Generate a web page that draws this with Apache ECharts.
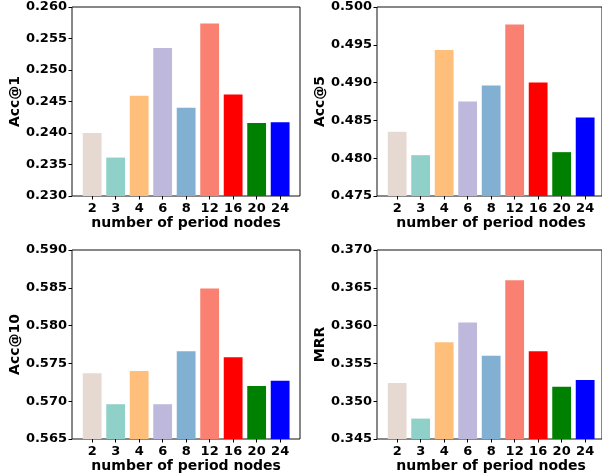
<!DOCTYPE html>
<html>
<head>
<meta charset="utf-8">
<script src="https://cdn.jsdelivr.net/npm/echarts@6/dist/echarts.min.js"></script>
<style>html,body{margin:0;padding:0;background:#fff;}#c{width:602px;height:476px;}</style>
</head>
<body>
<div id="c"></div>
<script>
const categories = ['2','3','4','6','8','12','16','20','24'];
const acc1  = [0.2400, 0.2361, 0.2459, 0.2535, 0.2440, 0.2574, 0.2461, 0.2416, 0.2417];
const acc5  = [0.4835, 0.4804, 0.4943, 0.4875, 0.4896, 0.4977, 0.4900, 0.4808, 0.4854];
const acc10 = [0.5737, 0.5696, 0.5740, 0.5696, 0.5766, 0.5849, 0.5758, 0.5720, 0.5727];
const mrr   = [0.3524, 0.3477, 0.3578, 0.3604, 0.3560, 0.3660, 0.3566, 0.3519, 0.3528];
const yMins = [0.230, 0.475, 0.565, 0.345];
const yMaxs = [0.260, 0.500, 0.590, 0.370];
const yNames = ['Acc@1', 'Acc@5', 'Acc@10', 'MRR'];
const barColors = ['#e6d9d1', '#8fd0c8', '#ffbe7a', '#bdb8dc', '#81b0d3', '#fa8072', '#ff0000', '#008000', '#0000ff'];

const panels = [
  {data: acc1,  left: 72,  top: 7},
  {data: acc5,  left: 377, top: 7},
  {data: acc10, left: 72,  top: 250},
  {data: mrr,   left: 377, top: 250}
];
const FW = 228, FH = 189, BOFF = 8.4, BW = 211.5;
const font = 'DejaVu Sans';

const grid = [], xAxis = [], yAxis = [], series = [];
panels.forEach((p, i) => {
  grid.push({left: p.left, top: p.top, width: FW, height: FH, show: true, borderColor: '#111', borderWidth: 1, backgroundColor: 'transparent'});
  grid.push({left: p.left + BOFF, top: p.top, width: BW, height: FH});
  const gf = 2 * i, gb = 2 * i + 1;
  xAxis.push({gridIndex: gf, type: 'value', show: false, min: 0, max: 1});
  yAxis.push({
    gridIndex: gf, type: 'value', min: yMins[i], max: yMaxs[i], interval: 0.005,
    name: yNames[i], nameLocation: 'middle', nameGap: 50, nameRotate: 90, nameMoveOverlap: false,
    nameTextStyle: {fontFamily: font, fontWeight: 'bold', fontSize: 14, color: '#000'},
    axisLine: {show: false},
    axisTick: {show: true, length: 3.5, lineStyle: {color: '#000', width: 1}},
    splitLine: {show: false},
    axisLabel: {margin: 5, fontFamily: font, fontWeight: 'bold', fontSize: 13, color: '#000',
      formatter: v => v.toFixed(3)}
  });
  xAxis.push({
    gridIndex: gb, type: 'category', data: categories, boundaryGap: true,
    name: 'number of period nodes', nameLocation: 'middle', nameGap: 20, nameMoveOverlap: false,
    nameTextStyle: {fontFamily: font, fontWeight: 'bold', fontSize: 14, color: '#000'},
    axisLine: {show: false},
    axisTick: {show: true, alignWithLabel: true, length: 3.5, lineStyle: {color: '#000', width: 1}},
    axisLabel: {margin: 6, interval: 0, fontFamily: font, fontWeight: 'bold', fontSize: 13, color: '#000'}
  });
  yAxis.push({gridIndex: gb, type: 'value', min: yMins[i], max: yMaxs[i], show: false, splitLine: {show: false}});
  series.push({
    type: 'bar', xAxisIndex: 2 * i + 1, yAxisIndex: 2 * i + 1,
    barWidth: '80%',
    data: p.data.map((v, k) => ({value: v, itemStyle: {color: barColors[k]}})),
    silent: true, animation: false
  });
});

const chart = echarts.init(document.getElementById('c'), null, {renderer: 'canvas'});
chart.setOption({animation: false, grid, xAxis, yAxis, series});
</script>
</body>
</html>
